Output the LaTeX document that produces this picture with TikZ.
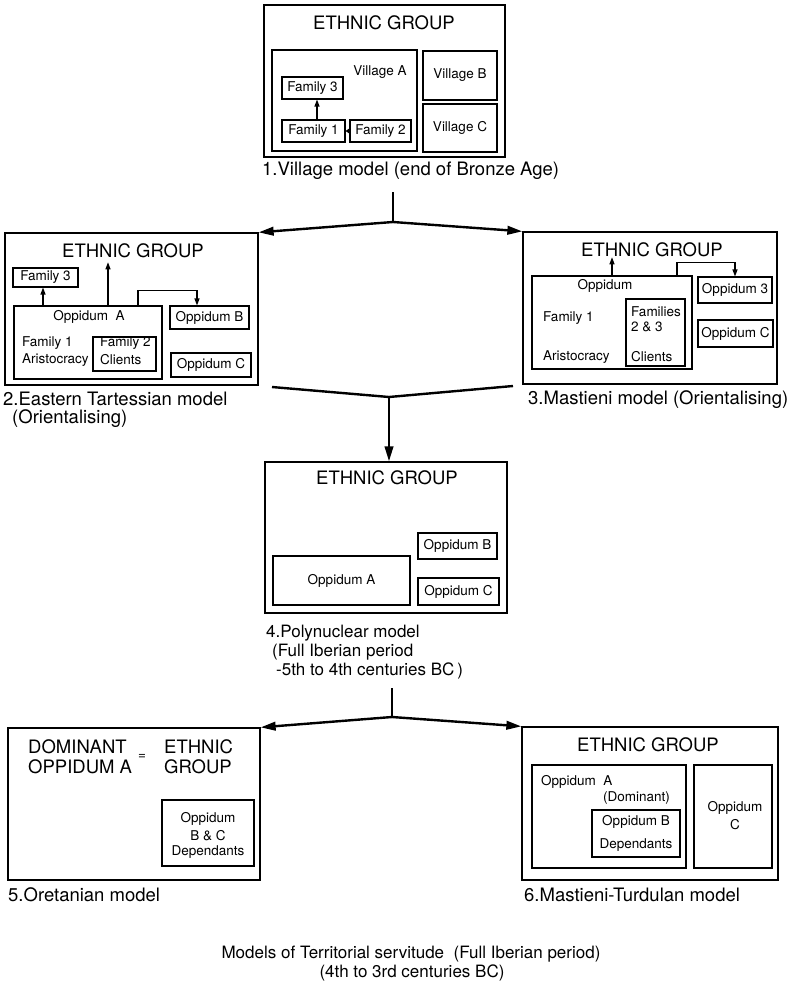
\documentclass[tikz,border=0pt]{standalone}
\usepackage{fontspec}
\setmainfont{TeX Gyre Heros}
\usetikzlibrary{arrows.meta}
\begin{document}
\begin{tikzpicture}[x=1pt,y=-1pt,
 bx/.style={draw, line width=1.1pt, inner sep=0pt},
 ob/.style={draw, line width=1.3pt, inner sep=0pt},
 big/.style={font=\fontsize{18.5}{20}\selectfont, inner sep=0pt},
 sm/.style={font=\fontsize{13.5}{15}\selectfont, inner sep=0pt},
 smw/.style={sm, anchor=west},
 captxt/.style={font=\fontsize{18.5}{20}\selectfont, inner sep=0pt, anchor=west},
 captxtb/.style={font=\fontsize{17}{19}\selectfont, inner sep=0pt, anchor=west},
 conn/.style={line width=2.4pt, -{Triangle[length=15pt,width=8.5pt]}},
 ln/.style={line width=2.4pt},
 sarr/.style={line width=1.2pt, -{Triangle[length=7pt,width=5pt]}},
]
\fill[white] (0,0) rectangle (795,991);
\useasboundingbox (0,0) rectangle (795,991);

% ---------- Model 1 ----------
\node[ob, minimum width=241pt, minimum height=152pt] (m1) at (384.5,81) {};
\node[big] (e1) at (384,23) {ETHNIC GROUP};
\node[bx, minimum width=145pt, minimum height=101pt] (vA) at (344.5,100.5) {};
\node[sm] (vAl) at (380,72) {Village A};
\node[bx, sm, minimum width=74pt, minimum height=49pt] (vB) at (460,75.5) {Village B};
\node[bx, sm, minimum width=74pt, minimum height=48pt] (vC) at (460,128) {Village C};
\node[bx, sm, minimum width=61pt, minimum height=22pt] (f3) at (312.5,88) {Family 3};
\node[bx, sm, minimum width=63pt, minimum height=22pt] (f1) at (313.5,131) {Family 1};
\node[bx, sm, minimum width=61pt, minimum height=22pt] (f2) at (380.5,131) {Family 2};
\draw[sarr] ([xshift=3.5pt]f1.north) -- ([xshift=3.5pt]f1.north |- f3.south);
\draw[line width=1.1pt, -{Triangle[length=4pt,width=5pt]}] (f2.west) -- (f1.east);
\node[captxt] (c1) at (262,171) {1.Village model (end of Bronze Age)};

% ---------- connector 1 ----------
\coordinate (t1) at (393,192);
\coordinate (j1) at (393,222);
\draw[ln] (t1) -- (j1);

% ---------- Model 2 ----------
\node[ob, minimum width=253pt, minimum height=152pt] (m2) at (131.5,309) {};
\node[big] (e2) at (133,251) {ETHNIC GROUP};
\node[bx, sm, minimum width=65pt, minimum height=19pt] (f3b) at (45.5,277.5) {Family 3};
\node[bx, minimum width=148pt, minimum height=73pt] (oA) at (88,342.5) {};
\node[sm] at (89,317) {Oppidum\ \ A};
\node[smw] at (22,343) {Family 1};
\node[smw] at (22,360) {Aristocracy};
\node[bx, minimum width=63pt, minimum height=34pt] (f2c) at (124.5,354) {};
\node[smw] at (100,343) {Family 2};
\node[smw] at (100,360) {Clients};
\node[bx, sm, minimum width=79pt, minimum height=23pt] (oB) at (209.5,317.5) {Oppidum B};
\node[bx, sm, minimum width=80pt, minimum height=24pt] (oC) at (211,365) {Oppidum C};
\draw[sarr] ([xshift=-2.5pt]f3b.south |- oA.north) -- ([xshift=-2.5pt]f3b.south);
\draw[sarr, shorten >=4pt] ([xshift=20pt]oA.north) -- ([xshift=20pt]oA.north |- e2.south);
\draw[sarr] ([xshift=50pt]oA.north) |- ([xshift=-12.5pt,yshift=15pt]oB.north) -- ([xshift=-12.5pt]oB.north);
\node[captxt] (c2) at (3,399) {2.Eastern Tartessian model};
\node[captxt] (c2b) at (12,419) {(Orientalising)};

% ---------- Model 3 ----------
\node[ob, minimum width=254pt, minimum height=152pt] (m3) at (650,308) {};
\node[big] (e3) at (652,250) {ETHNIC GROUP};
\node[bx, minimum width=160pt, minimum height=93pt] (op) at (612,322.5) {};
\node[sm] at (605,286) {Oppidum};
\node[smw] at (543,318) {Family 1};
\node[smw] at (543,357) {Aristocracy};
\node[bx, minimum width=59pt, minimum height=67pt] (fam) at (655.5,332.5) {};
\node[smw] at (631,312) {Families};
\node[smw] at (631,327) {2 \& 3};
\node[smw] at (631,357) {Clients};
\node[bx, sm, minimum width=74pt, minimum height=26pt] (o3) at (735,290) {Oppidum 3};
\node[bx, sm, minimum width=75pt, minimum height=27pt] (oC3) at (735.5,333.5) {Oppidum C};
\draw[sarr] (op.north) -- (op.north |- e3.south);
\draw[sarr] ([xshift=65pt]op.north) |- ([yshift=14pt]o3.north) -- (o3.north);
\node[captxt] (c3) at (528,400) {3.Mastieni model (Orientalising)};

\draw[conn] (j1) -- (m2.north east);
\draw[conn] (j1) -- (m3.north west);

% ---------- connector 2 ----------
\coordinate (l2) at (272,387);
\coordinate (r2) at (513,386);
\coordinate (j2) at (389,397);
\draw[ln, line join=round] (l2) -- (j2) -- (r2);

% ---------- Model 4 ----------
\node[ob, minimum width=242pt, minimum height=151pt] (m4) at (386,537.5) {};
\draw[conn] (j2) -- (j2 |- m4.north);
\node[big] (e4) at (387,478) {ETHNIC GROUP};
\node[bx, sm, minimum width=137pt, minimum height=49pt] (oA4) at (341.5,580.5) {Oppidum A};
\node[bx, sm, minimum width=79pt, minimum height=26pt] (oB4) at (457.5,546) {Oppidum B};
\node[bx, sm, minimum width=81pt, minimum height=27pt] (oC4) at (458.5,591.5) {Oppidum C};
\node[captxtb] (c4) at (266,633) {4.Polynuclear model};
\node[captxtb] (c4b) at (272,652) {(Full Iberian period};
\node[captxtb] (c4c) at (276,671) {-5th to 4th centuries BC\,)};

% ---------- connector 3 ----------
\coordinate (t3) at (392,688);
\coordinate (j3) at (392,717);
\draw[ln] (t3) -- (j3);

% ---------- Model 5 ----------
\node[ob, minimum width=252pt, minimum height=152pt] (m5) at (134,804) {};
\node[big, anchor=west] at (28,747) {DOMINANT};
\node[big, anchor=west] at (28,767) {OPPIDUM A};
\node[sm] at (142,757) {=};
\node[big, anchor=west] at (164,747) {ETHNIC};
\node[big, anchor=west] at (164,767) {GROUP};
\node[bx, minimum width=92pt, minimum height=66pt] (oBC) at (208,833) {};
\node[sm] at (208,819) {Oppidum};
\node[sm] at (208,836) {B \& C};
\node[sm] at (208,852) {Dependants};
\node[captxt] (c5) at (8,895) {5.Oretanian model};

% ---------- Model 6 ----------
\node[ob, minimum width=256pt, minimum height=153pt] (m6) at (650,803.5) {};
\node[big] (e6) at (648,745) {ETHNIC GROUP};
\node[bx, minimum width=154pt, minimum height=103pt] (oA6) at (609,816.5) {};
\node[smw] at (541,782) {Oppidum\ \ A};
\node[smw] at (603,798) {(Dominant)};
\node[bx, minimum width=88pt, minimum height=47pt] (oB6) at (636,833.5) {};
\node[sm] at (636,822) {Oppidum B};
\node[sm] at (636,845) {Dependants};
\node[bx, minimum width=78pt, minimum height=103pt] (oC6) at (733,816.5) {};
\node[sm] at (735,808) {Oppidum};
\node[sm] at (735,825) {C};
\node[captxt] (c6) at (524,895) {6.Mastieni-Turdulan model};

\draw[conn] (j3) -- (m5.north east);
\draw[conn] (j3) -- (m6.north west);

% ---------- bottom caption ----------
\node[captxtb, anchor=center] (b1) at (411,954) {Models of Territorial servitude\ \ (Full Iberian period)};
\node[captxtb, anchor=center] (b2) at (412,973) {(4th to 3rd centuries BC)};
\end{tikzpicture}
\end{document}
